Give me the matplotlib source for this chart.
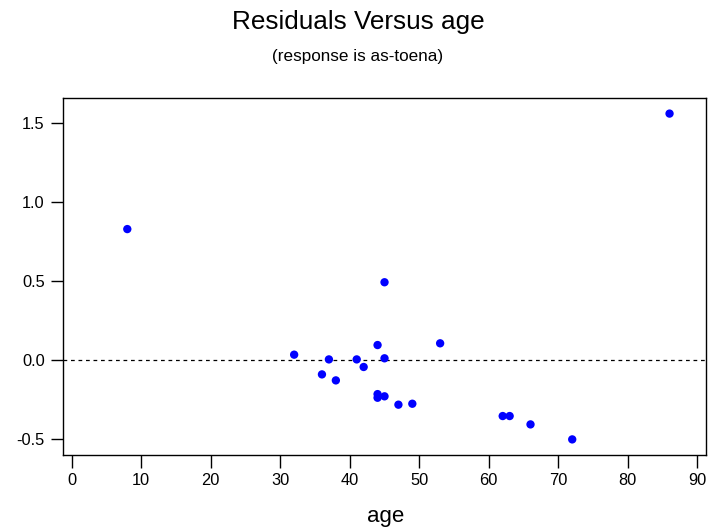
import matplotlib
matplotlib.use('Agg')
import matplotlib.pyplot as plt

plt.rcParams['font.family'] = ['Liberation Sans', 'DejaVu Sans']

# age of each observation and its residual
age = [8, 32, 36, 37, 38, 41, 42, 44, 44, 44, 45, 45, 45, 47, 49, 53, 62, 63, 66, 72, 86]
residual = [0.83, 0.034, -0.091, 0.004, -0.129, 0.004, -0.044, 0.095, -0.216, -0.239,
            0.493, 0.011, -0.230, -0.283, -0.277, 0.106, -0.355, -0.355, -0.408, -0.503, 1.562]

x_ticks = [0, 10, 20, 30, 40, 50, 60, 70, 80, 90]
y_ticks = [-0.5, 0.0, 0.5, 1.0, 1.5]
y_labels = ['-0.5', '0.0', '0.5', '1.0', '1.5']

fig = plt.figure(figsize=(7.16, 5.31), dpi=100)
ax = fig.add_axes([0.0876, 0.1431, 0.8980, 0.6718])

ax.scatter(age, residual, s=36, c='#0000ff', edgecolors='none', zorder=3)
ax.axhline(0, color='black', linestyle=(0, (3, 3)), linewidth=0.9, zorder=2)

ax.set_xlim(-1.29, 91.2)
ax.set_ylim(-0.602, 1.659)
ax.set_xticks(x_ticks)
ax.set_yticks(y_ticks)
ax.set_yticklabels(y_labels)
ax.tick_params(direction='out', length=9, width=1, labelsize=11.8, pad=4, colors='black')

for sp in ax.spines.values():
    sp.set_linewidth(1.0)
    sp.set_color('black')

fig.text(0.5, 0.958, 'Residuals Versus age', ha='center', va='center', fontsize=18.8)
fig.text(0.5, 0.893, '(response is as-toena)', ha='center', va='center', fontsize=12.3)
fig.text(0.539, 0.028, 'age', ha='center', va='center', fontsize=16)

fig.savefig('out.png', dpi=100)
